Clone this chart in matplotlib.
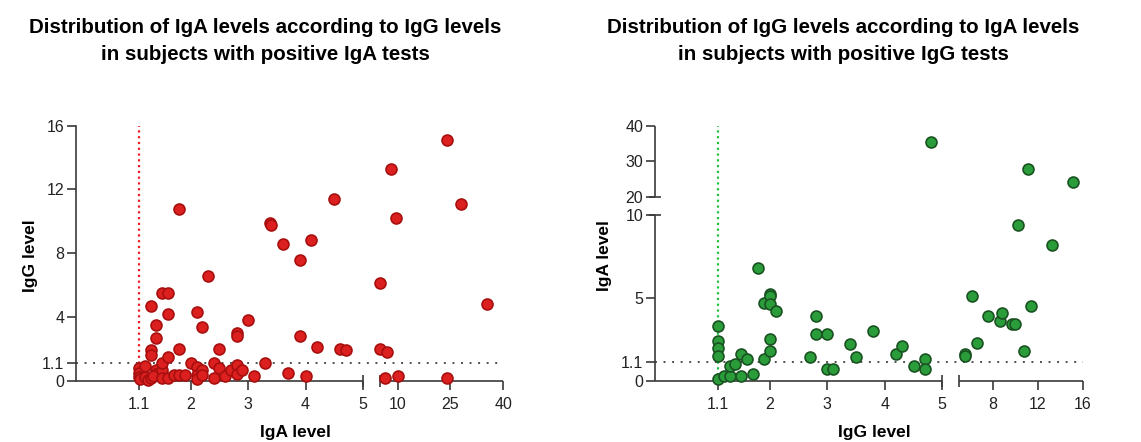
import numpy as np
import matplotlib.pyplot as plt

plt.rcParams['font.family'] = ['Liberation Sans', 'DejaVu Sans']

# left: subjects with positive IgA tests (x = IgA level, y = IgG level)
iga_pos_iga = [1.1, 1.1, 1.1, 1.12, 1.2, 1.2, 1.25, 1.3, 1.4, 1.4, 1.35, 1.5,
               1.5, 1.5, 1.6, 1.7, 1.8, 1.9, 2.0, 2.1, 2.1, 2.1, 2.2, 2.2,
               1.3, 1.3, 1.3, 1.4, 1.4, 1.5, 1.6, 1.6, 1.6, 1.8, 1.8, 2.1,
               2.2, 2.3, 2.4, 2.4, 2.5, 2.5, 2.6, 2.7, 2.8, 2.8, 2.8, 2.8,
               2.9, 3.0, 3.1, 3.3, 3.38, 3.4, 3.6, 3.7, 3.9, 3.9, 4.0, 4.1,
               4.2, 4.5, 4.6, 4.7, 5.1, 5.1, 6.3, 7.0, 8.2, 9.5, 10.1, 24,
               24, 28, 35.4]
iga_pos_igg = [0.8, 0.5, 0.25, 0.1, 0.9, 0.25, 0.05, 0.15, 0.65, 0.45, 0.3, 0.7,
               0.15, 1.1, 0.2, 0.35, 0.35, 0.35, 1.1, 0.85, 0.35, 0.1, 0.65, 0.35,
               4.7, 1.9, 1.6, 3.5, 2.7, 5.5, 5.5, 4.2, 1.5, 2.0, 10.8, 4.3,
               3.4, 6.6, 1.1, 0.2, 2.0, 0.8, 0.3, 0.7, 3.0, 2.8, 1.0, 0.45,
               0.7, 3.8, 0.3, 1.1, 9.9, 9.75, 8.6, 0.5, 7.6, 2.8, 0.3, 8.8,
               2.1, 11.4, 2.0, 1.9, 6.1, 2.0, 0.2, 1.8, 13.3, 10.2, 0.3, 15.1,
               0.2, 11.1, 4.8]

# right: subjects with positive IgG tests (x = IgG level, y = IgA level)
igg_pos_igg = [1.1, 1.1, 1.1, 1.1, 1.1, 1.2, 1.3, 1.3, 1.4, 1.5, 1.6, 1.5,
               1.7, 1.8, 1.9, 1.9, 2.0, 2.0, 2.0, 2.1, 2.0, 2.0, 2.7, 2.8,
               2.8, 3.0, 3.0, 3.1, 3.4, 3.5, 3.8, 4.2, 4.3, 4.5, 4.7, 4.7,
               4.8, 5.5, 5.5, 6.1, 6.6, 7.6, 8.6, 8.8, 9.7, 10.0, 10.2, 10.8,
               11.1, 11.4, 13.3, 15.1]
igg_pos_iga = [3.3, 2.4, 2.0, 1.5, 0.1, 0.28, 0.28, 0.9, 1.0, 1.6, 1.3, 0.3,
               0.4, 6.8, 4.7, 1.3, 5.25, 5.1, 4.6, 4.2, 2.5, 1.8, 1.4, 3.9,
               2.8, 2.8, 0.7, 0.7, 2.2, 1.4, 3.0, 1.6, 2.1, 0.9, 1.3, 0.7,
               35.4, 1.6, 1.5, 5.1, 2.3, 3.9, 3.6, 4.1, 3.4, 3.4, 9.4, 1.8,
               28.0, 4.5, 8.2, 24.2]

cutoff = 1.1

left_xticks = [1.1, 2, 3, 4, 5, 10, 25, 40]
left_yticks = [0, 1.1, 4, 8, 12, 16]
right_xticks = [1.1, 2, 3, 4, 5, 8, 12, 16]
right_yticks = [0, 1.1, 5, 10, 20, 30, 40]

AXIS_COLOR = '#3a3a3a'


def make_break(a, b, gap, k):
    '''
    Piecewise linear scale: identity up to a, a gap, then compressed from b on
    '''
    span = max(b - a, 1e-9)

    def fwd(v):
        v = np.asarray(v, dtype=float)
        mid = a + gap * (v - a) / span
        hi = a + gap + (v - b) * k
        return np.where(v <= a, v, np.where(v < b, mid, hi))

    def inv(u):
        u = np.asarray(u, dtype=float)
        mid = a + (u - a) * span / gap
        hi = b + (u - a - gap) / k
        return np.where(u <= a, u, np.where(u < a + gap, mid, hi))
    return fwd, inv


def label(v):
    return '1.1' if v == 1.1 else '%g' % v


def x_axis_line(ax, segments):
    tr = ax.get_xaxis_transform()
    for lo, hi in segments:
        ax.plot([lo, hi], [0, 0], color=AXIS_COLOR, lw=1.2, transform=tr,
                clip_on=False, zorder=2, solid_capstyle='butt')
    # break caps
    caps = [segments[0][1], segments[1][0]]
    ax.plot(caps, [0, 0], ls='', marker='|', ms=9, mew=1.2,
            color=AXIS_COLOR, transform=tr, clip_on=False, zorder=2)


def y_axis_line(ax, segments):
    tr = ax.get_yaxis_transform()
    for lo, hi in segments:
        ax.plot([0, 0], [lo, hi], color=AXIS_COLOR, lw=1.2, transform=tr,
                clip_on=False, zorder=2, solid_capstyle='butt')
    caps = [segments[0][1], segments[1][0]]
    ax.plot([0, 0], caps, ls='', marker='_', ms=9, mew=1.2,
            color=AXIS_COLOR, transform=tr, clip_on=False, zorder=2)


def style_axes(ax, xticks, yticks):
    for side in ['top', 'right', 'bottom']:
        ax.spines[side].set_visible(False)
    ax.spines['left'].set_color(AXIS_COLOR)
    ax.spines['left'].set_linewidth(1.2)
    ax.set_xticks(xticks)
    ax.set_xticklabels([label(v) for v in xticks])
    ax.set_yticks(yticks)
    ax.set_yticklabels([label(v) for v in yticks])
    ax.tick_params(color=AXIS_COLOR, width=1.2, length=6.5,
                   labelsize=11.5, labelcolor='#222222')
    ax.tick_params(axis='x', pad=5)
    ax.tick_params(axis='y', pad=2)


def panel(ax, x, y, face, edge, vcolor, xlabel, ylabel):
    ax.scatter(x, y, s=62, c=face, edgecolors=edge, linewidths=1.2,
               zorder=3, clip_on=False)
    ax.axhline(cutoff, color='#505050', lw=1.4, ls=(0, (1, 3.4)), zorder=1)
    ax.axvline(cutoff, color=vcolor, lw=1.6, ls=(0, (1, 1.6)), zorder=1)
    ax.set_xlabel(xlabel, fontsize=12.5, fontweight='bold')
    ax.set_ylabel(ylabel, fontsize=12.5, fontweight='bold')


fig = plt.figure(figsize=(11.41, 4.42), dpi=100)

# left panel
ax1 = fig.add_axes([0.0666, 0.1387, 0.3745, 0.5769])
fx, ix = make_break(5, 5 + 1e-9, 0.296, 0.0614)
ax1.set_xscale('function', functions=(fx, ix))
ax1.set_xlim(0, 40)
ax1.set_ylim(0, 16)
panel(ax1, iga_pos_iga, iga_pos_igg, '#dc1f1f', '#a80f0f', '#ee1c24',
      'IgA level', 'IgG level')
style_axes(ax1, left_xticks, left_yticks)
x_axis_line(ax1, [(0, 5), (5 + 1e-9, 40)])
ax1.xaxis.set_label_coords(0.5125, -0.175)
ax1.yaxis.set_label_coords(-0.089, 0.49)

# right panel
ax2 = fig.add_axes([0.5741, 0.1387, 0.3748, 0.5769])
fx, ix = make_break(5, 5 + 1e-9, 0.296, 0.1953)
ax2.set_xscale('function', functions=(fx, ix))
fy, iy = make_break(10, 20, 1.068, 0.216)
ax2.set_yscale('function', functions=(fy, iy))
ax2.set_xlim(0, 16)
ax2.set_ylim(0, 40)
panel(ax2, igg_pos_igg, igg_pos_iga, '#2a9d3a', '#1a5222', '#22c03a',
      'IgG level', 'IgA level')
style_axes(ax2, right_xticks, right_yticks)
ax2.spines['left'].set_visible(False)
x_axis_line(ax2, [(0, 5), (5 + 1e-9, 16)])
y_axis_line(ax2, [(0, 10), (20, 40)])
ax2.xaxis.set_label_coords(0.5125, -0.175)
ax2.yaxis.set_label_coords(-0.10, 0.49)

fig.text(265 / 1141, 1 - 18 / 442,
         'Distribution of IgA levels according to IgG levels\n'
         'in subjects with positive IgA tests',
         ha='center', va='top', fontsize=14.8, fontweight='bold',
         linespacing=1.5)
fig.text(843.5 / 1141, 1 - 18 / 442,
         'Distribution of IgG levels according to IgA levels\n'
         'in subjects with positive IgG tests',
         ha='center', va='top', fontsize=14.8, fontweight='bold',
         linespacing=1.5)

fig.savefig('out.png', dpi=100)
